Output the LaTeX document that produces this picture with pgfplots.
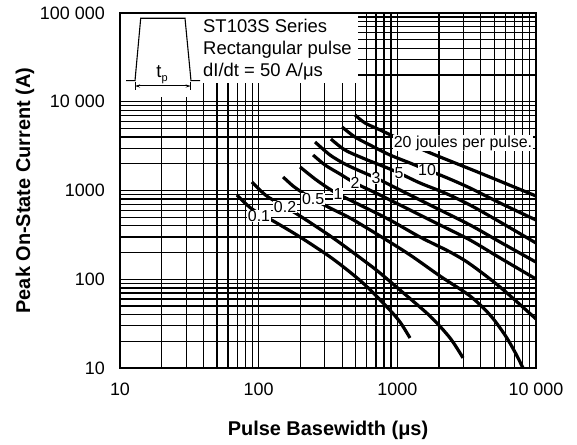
\documentclass[border=0pt]{standalone}
\usepackage{fontspec}
\setmainfont{Liberation Sans}
\usepackage{pgfplots}
\pgfplotsset{compat=1.18}
\usetikzlibrary{arrows.meta}

\newcommand\tickfont{\fontsize{18}{20}\selectfont}
\newcommand\labfont{\fontsize{20}{24}\selectfont\bfseries}
\newcommand\curvefont{\fontsize{16}{18}\selectfont}
\newcommand\insetfont{\fontsize{18.5}{22}\selectfont}
\tikzset{
  lab/.style={fill=white, inner sep=0.6bp, font=\curvefont},
  curve/.style={black, mark=none, line width=3.2bp, smooth},
}

\begin{document}
\begin{tikzpicture}
\begin{loglogaxis}[
  scale only axis,
  width=416bp, height=355bp,
  xmin=10, xmax=10000, ymin=10, ymax=100000,
  xtick={10,100,1000,10000},
  xticklabels={10,100,1000,10~000},
  ytick={10,100,1000,10000,100000},
  yticklabels={10,100,1000,10~000,100~000},
  grid=both,
  major grid style={black, line width=1.3bp},
  minor grid style={black, line width=1.3bp},
  axis line style={line width=2.5bp},
  tick style={draw=none},
  tick label style={font=\tickfont, inner sep=0pt},
  xticklabel style={yshift=-15bp},
  yticklabel style={xshift=-15bp},
]
% 20 J
\addplot[curve] coordinates {(495,7091) (585,5761) (725,4932) (930,4113) (1664,2716) (3947,1575) (10000,867)};
% 10 J
\addplot[curve] coordinates {(399,5193) (495,4007) (635,3256) (885,2512) (1234,2041) (1637,1702) (2207,1420) (3342,1067) (5500,723) (10000,465)};
% 5 J
\addplot[curve] coordinates {(332,3804) (419,2860) (585,2264) (815,1840) (1028,1575) (1457,1215) (2207,937) (3342,686) (5500,442) (10000,256)};
% 3 J
\addplot[curve] coordinates {(255,3520) (327,2512) (419,1989) (538,1658) (702,1383) (1045,1013) (1720,686) (3342,409) (5500,263) (10000,156)};
% 2 J
\addplot[curve] coordinates {(247,2512) (301,1938) (386,1535) (495,1215) (750,890) (1234,603) (2030,409) (3342,277) (5500,174) (10000,100.6)};
% 1 J
\addplot[curve] coordinates {(199,1840) (255,1348) (316,1067) (373,913) (538,686) (885,465) (1457,299) (2398,203) (3342,148.5) (5500,81.8) (10000,35.7)};
% 0.5 J
\addplot[curve] coordinates {(150,1420) (177,1124) (209,937) (247,802) (327,635) (456,490) (750,307) (1234,188) (2030,108.8) (3342,64.8) (4660,39.6) (5976,23.5) (7056,15.1) (8057,10)};
% 0.2 J
\addplot[curve] coordinates {(89.5,1247) (102,1013) (117,845) (155,652) (199,516) (344,292) (594,156) (750,117.6) (1045,75.6) (1720,38.5) (2398,21.8) (2975,13.0)};
% 0.1 J
\addplot[curve] coordinates {(69.8,890) (79.7,723) (89.5,619) (106,530) (131,442) (199,299) (344,169) (565,90.7) (856,47.4) (1045,33.0) (1234,21.8)};

\coordinate (l01) at (axis cs:100.6,516);
\coordinate (l02) at (axis cs:155,652);
\coordinate (l05) at (axis cs:247,802);
\coordinate (l1) at (axis cs:373,913);
\coordinate (l2) at (axis cs:495,1215);
\coordinate (l3) at (axis cs:702,1383);
\coordinate (l5) at (axis cs:1028,1575);
\coordinate (l10) at (axis cs:1637,1702);
\coordinate (l20) at (axis cs:2975,3429);
\end{loglogaxis}

% energy labels on the curves
\node[lab] at (l01) {0.1};
\node[lab] at (l02) {0.2};
\node[lab] at (l05) {0.5};
\node[lab] at (l1) {1};
\node[lab] at (l2) {2};
\node[lab] at (l3) {3};
\node[lab] at (l5) {5};
\node[lab] at (l10) {10};
\node[lab] at (l20) {20 joules per pulse.};

% axis titles
\node[rotate=90, font=\labfont] at ([xshift=-95bp]current axis.west) {Peak On-State Current (A)};
\node[font=\labfont] at ([yshift=-62bp]current axis.south) {Pulse Basewidth (μs)};

% inset with pulse shape and series text
\begin{scope}[shift={(current axis.north west)}, x=1bp, y=-1bp]
  \fill[white] (1.25,1.25) rectangle (83,84);
  \fill[white] (83,1.25) rectangle (238,70);
  \draw[line width=1.1bp] (6,67.7) -- (15,67.7) -- (20.7,5.3) -- (65,5.3) -- (71,67.7) -- (80,67.7);
  \draw[line width=1bp, {Stealth[length=5bp,width=3bp]}-{Stealth[length=5bp,width=3bp]}] (15,73) -- (70.7,73);
  \draw[line width=0.9bp] (15,68.7) -- (15,77) (70.7,68.7) -- (70.7,77);
  \node[anchor=base, inner sep=0pt, font=\insetfont] at (42,65) {t\raisebox{-0.35ex}{\fontsize{11}{12}\selectfont p}};
  \node[anchor=base west, inner sep=0pt, font=\insetfont] at (83,20) {ST103S Series};
  \node[anchor=base west, inner sep=0pt, font=\insetfont] at (83,42) {Rectangular pulse};
  \node[anchor=base west, inner sep=0pt, font=\insetfont] at (83,64) {dI/dt = 50 A/μs};
\end{scope}

\pgfresetboundingbox
\path[use as bounding box] ([xshift=-120bp,yshift=13bp]current axis.north west) rectangle ++(577bp,-445bp);
\end{tikzpicture}
\end{document}
